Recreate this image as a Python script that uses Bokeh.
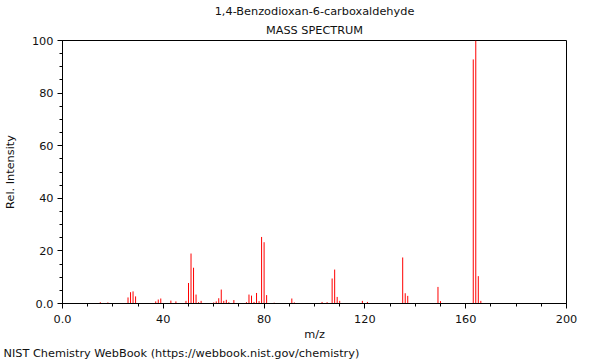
import math
from bokeh.plotting import figure
from bokeh.models import Range1d, FixedTicker, Title, ColumnDataSource
from bokeh.embed import file_html
from bokeh.resources import INLINE

# ---- data (m/z, relative intensity) ----
mz = [15, 18, 26, 27, 28, 29, 37, 38, 39, 43, 45, 49, 50, 51, 52, 53, 54, 55,
      60, 61, 62, 63, 64, 65, 66, 68, 73, 74, 75, 76, 77, 78, 79, 80, 81, 84,
      91, 92, 103, 105, 107, 108, 109, 110, 119, 121, 135, 136, 137, 149, 150,
      163, 164, 165, 166]
intensity = [0.5, 0.4, 2.3, 4.3, 4.6, 2.7, 0.8, 1.5, 1.9, 1.1, 0.8, 1.0, 7.8, 19.0,
             13.6, 3.4, 0.5, 1.0, 0.4, 0.8, 2.0, 5.3, 1.0, 1.4, 0.5, 1.3, 0.5, 3.4,
             3.0, 0.6, 4.0, 0.9, 25.3, 23.3, 3.2, 0.3, 1.9, 0.4, 0.6, 0.5, 9.5, 12.9,
             2.5, 1.0, 1.0, 0.6, 17.5, 3.9, 2.9, 6.3, 0.9, 92.8, 100.0, 10.4, 1.0]

x_major = [0, 40, 80, 120, 160, 200]
x_minor = list(range(0, 201, 10))
y_major = [0, 20, 40, 60, 80, 100]
y_minor = list(range(0, 101, 5))
x_labels = {0: "0.0", 40: "40", 80: "80", 120: "120", 160: "160", 200: "200"}
y_labels = {0: "0.0", 20: "20", 40: "40", 60: "60", 80: "80", 100: "100"}

title1 = "1,4-Benzodioxan-6-carboxaldehyde"
title2 = "MASS SPECTRUM"
xlabel = "m/z"
ylabel = "Rel. Intensity"
footer = "NIST Chemistry WebBook (https://webbook.nist.gov/chemistry)"

FONT = "DejaVu Sans"
FS = "11.3px"
TXT = "#111111"

p = figure(width=600, height=360, output_backend="svg", toolbar_location=None,
           x_range=Range1d(0, 200), y_range=Range1d(0, 100),
           min_border_left=62, min_border_right=34, min_border_top=40,
           min_border_bottom=57)
p.outline_line_color = "black"
p.outline_line_width = 1
p.xgrid.visible = False
p.ygrid.visible = False
p.background_fill_color = "white"
p.border_fill_color = "white"

src = ColumnDataSource(dict(x=mz, y=intensity, y0=[0] * len(mz)))
p.segment(x0="x", y0="y0", x1="x", y1="y", source=src, line_color="#ff0000", line_width=1)

for ax, ticks, minor, labels in ((p.xaxis[0], x_major, x_minor, x_labels),
                                 (p.yaxis[0], y_major, y_minor, y_labels)):
    ax.ticker = FixedTicker(ticks=ticks, minor_ticks=minor)
    ax.major_label_overrides = labels
    ax.major_tick_out = 5
    ax.major_tick_in = 0
    ax.minor_tick_out = 3
    ax.minor_tick_in = 0
    ax.axis_line_color = "black"
    ax.major_tick_line_color = "black"
    ax.minor_tick_line_color = "black"
    ax.major_label_text_font = FONT
    ax.major_label_text_font_size = FS
    ax.major_label_text_color = TXT
    ax.axis_label_text_font = FONT
    ax.axis_label_text_font_size = FS
    ax.axis_label_text_font_style = "normal"
    ax.axis_label_text_color = TXT
p.xaxis[0].major_label_standoff = 6
p.yaxis[0].major_label_standoff = 4
p.xaxis[0].axis_label = xlabel
p.yaxis[0].axis_label = ylabel
p.xaxis[0].axis_label_standoff = 2
p.yaxis[0].axis_label_standoff = 12

def mk_title(text, align="center", offset=0, standoff=0):
    return Title(text=text, align=align, offset=offset, standoff=standoff,
                 text_font=FONT, text_font_size=FS, text_font_style="normal",
                 text_color=TXT)

p.title = mk_title(title1, standoff=0)
p.add_layout(mk_title(title2, standoff=8), "above")
p.add_layout(mk_title(footer, align="left", offset=-59, standoff=2), "below")

open("out.html", "w").write(file_html(p, INLINE))
